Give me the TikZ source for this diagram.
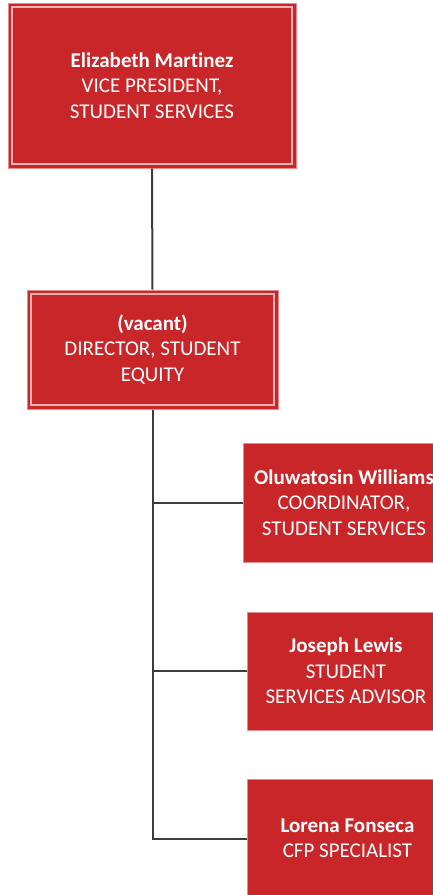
\documentclass[tikz,border=0pt]{standalone}
\usepackage{fontspec}
\setmainfont[Ligatures=NoCommon]{Carlito}
\definecolor{boxred}{RGB}{200,38,41}
\definecolor{boxedge}{RGB}{228,140,142}
\definecolor{innerline}{RGB}{240,178,178}
\definecolor{linkgray}{RGB}{60,60,60}
\begin{document}
\begin{tikzpicture}[x=1pt,y=-1pt,
  card/.style={rectangle, fill=boxred, draw=boxedge, line width=1pt, inner sep=0pt,
    text=white, align=center, font=\fontsize{21}{25.5}\selectfont},
  inset/.style={draw=innerline, line width=1.2pt},
  link/.style={draw=linkgray, line width=2pt}]
\clip (0,0) rectangle (433,895);
\fill[white] (0,0) rectangle (433,895);
\node[card, minimum width=288pt, minimum height=165pt] (vp) at (152,85.5)
  {\textbf{Elizabeth Martinez}\\VICE PRESIDENT,\\STUDENT SERVICES};
\draw[inset] ([shift={(4.5pt,-4.5pt)}]vp.north west) rectangle ([shift={(-4.5pt,4.5pt)}]vp.south east);
\node[card, minimum width=251pt, minimum height=119pt] (dir) at (152.5,349.5)
  {\textbf{(vacant)}\\DIRECTOR, STUDENT\\EQUITY};
\draw[inset] ([shift={(4.5pt,-4.5pt)}]dir.north west) rectangle ([shift={(-4.5pt,4.5pt)}]dir.south east);
\node[card, minimum width=202pt, minimum height=119pt] (ow) at (344,502.5)
  {\textbf{Oluwatosin Williams}\\COORDINATOR,\\STUDENT SERVICES};
\node[card, minimum width=198pt, minimum height=118pt] (jl) at (346,671)
  {\textbf{Joseph Lewis}\\STUDENT\\SERVICES ADVISOR};
\node[card, minimum width=201pt, minimum height=119pt] (lf) at (347.5,838.5)
  {\textbf{Lorena Fonseca}\\CFP SPECIALIST};
\draw[link] (vp.south) -- (dir.north);
\draw[link] (dir.south) |- (lf.west);
\draw[link] (dir.south |- ow.west) -- (ow.west);
\draw[link] (dir.south |- jl.west) -- (jl.west);
\end{tikzpicture}
\end{document}
